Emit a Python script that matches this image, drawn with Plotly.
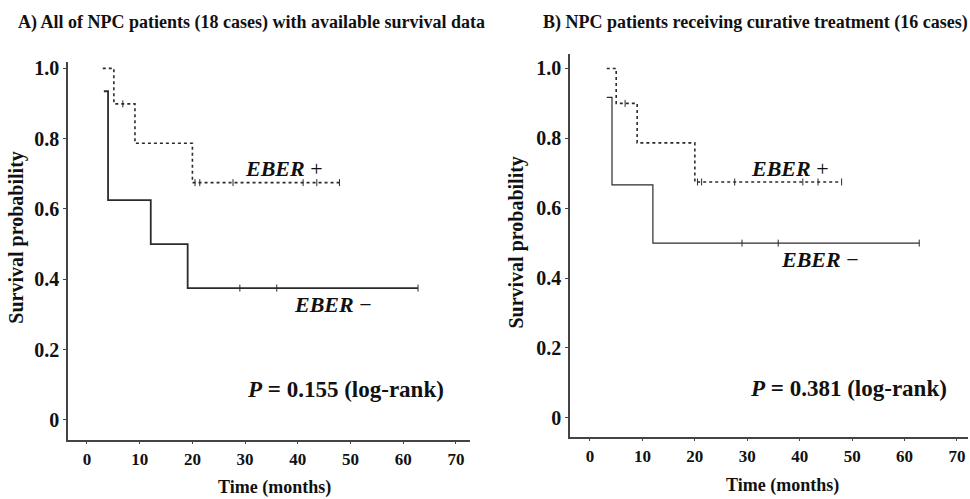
import plotly.graph_objects as go

W, H = 970, 499

# ---- Data ----
# Panel A: all NPC patients
a_pos_t = [3.0, 5.1, 9.1, 20.0, 47.9]
a_pos_s = [1.0, 0.899, 0.787, 0.675, 0.675]
a_pos_cens_t = [6.8, 20.5, 21.4, 27.7, 41.0, 43.6, 47.9]
a_pos_cens_s = [0.899, 0.675, 0.675, 0.675, 0.675, 0.675, 0.675]

a_neg_t = [3.2, 4.0, 12.1, 19.1, 62.8]
a_neg_s = [0.935, 0.625, 0.5, 0.375, 0.375]
a_neg_cens_t = [29.0, 36.0, 62.8]
a_neg_cens_s = [0.375, 0.375, 0.375]

# Panel B: curative treatment
b_pos_t = [3.2, 5.0, 9.0, 20.0, 48.0]
b_pos_s = [1.0, 0.9, 0.787, 0.675, 0.675]
b_pos_cens_t = [6.7, 20.5, 21.3, 27.6, 40.6, 43.5, 48.0]
b_pos_cens_s = [0.9, 0.675, 0.675, 0.675, 0.675, 0.675, 0.675]

b_neg_t = [3.2, 4.2, 12.0, 62.8]
b_neg_s = [0.917, 0.667, 0.5, 0.5]
b_neg_cens_t = [29.0, 35.9, 62.8]
b_neg_cens_s = [0.5, 0.5, 0.5]

x_ticks = [0, 10, 20, 30, 40, 50, 60, 70]
y_ticks = [0, 0.2, 0.4, 0.6, 0.8, 1.0]
y_ticktext = ["0", "0.2", "0.4", "0.6", "0.8", "1.0"]

FONT = "Liberation Serif"
LC = "#2b2b2b"

fig = go.Figure()

def add_panel(xa, ya, pos_t, pos_s, pc_t, pc_s, neg_t, neg_s, nc_t, nc_s, neg_w):
    fig.add_trace(go.Scatter(x=pos_t, y=pos_s, mode="lines", line_shape="hv",
                             line=dict(color=LC, width=1.6, dash="dot"),
                             xaxis=xa, yaxis=ya, showlegend=False, hoverinfo="skip"))
    fig.add_trace(go.Scatter(x=pc_t, y=pc_s, mode="markers",
                             marker=dict(symbol="line-ns", size=5, line=dict(color=LC, width=1)),
                             xaxis=xa, yaxis=ya, showlegend=False, hoverinfo="skip"))
    fig.add_trace(go.Scatter(x=neg_t, y=neg_s, mode="lines", line_shape="hv",
                             line=dict(color=LC, width=neg_w),
                             xaxis=xa, yaxis=ya, showlegend=False, hoverinfo="skip"))
    fig.add_trace(go.Scatter(x=nc_t, y=nc_s, mode="markers",
                             marker=dict(symbol="line-ns", size=5, line=dict(color=LC, width=1)),
                             xaxis=xa, yaxis=ya, showlegend=False, hoverinfo="skip"))

add_panel("x", "y", a_pos_t, a_pos_s, a_pos_cens_t, a_pos_cens_s,
          a_neg_t, a_neg_s, a_neg_cens_t, a_neg_cens_s, 1.8)
add_panel("x2", "y2", b_pos_t, b_pos_s, b_pos_cens_t, b_pos_cens_s,
          b_neg_t, b_neg_s, b_neg_cens_t, b_neg_cens_s, 1.2)

def px_x(p):
    return p / W

def px_y(p):
    return (H - p) / H

axis_common = dict(showgrid=False, zeroline=False, showline=True, linecolor="#444",
                   linewidth=1.5, ticks="outside", ticklen=3, tickcolor="#444")

xax = dict(axis_common, tickvals=x_ticks, ticktext=["<b>%d</b>" % v for v in x_ticks],
           tickfont=dict(family=FONT, size=17, color="#111"))
yax = dict(axis_common, tickvals=y_ticks, ticktext=["<b>%s</b>" % t for t in y_ticktext],
           tickfont=dict(family=FONT, size=20, color="#111"))

fig.update_layout(
    width=W, height=H,
    margin=dict(l=0, r=0, t=0, b=0),
    paper_bgcolor="white", plot_bgcolor="white",
    xaxis=dict(xax, domain=[px_x(68), px_x(470)], range=[-3.6, 72.66], anchor="y"),
    yaxis=dict(yax, domain=[px_y(439), px_y(58)], range=[-0.056, 1.017], anchor="x"),
    xaxis2=dict(xax, domain=[px_x(570), px_x(968)], range=[-3.81, 72.1], anchor="y2"),
    yaxis2=dict(yax, domain=[px_y(436), px_y(50)], range=[-0.054, 1.04], anchor="x2"),
)

def ann(text, x, y, size, angle=0, xref="paper", yref="paper"):
    fig.add_annotation(text=text, x=x, y=y, xref=xref, yref=yref,
                       xanchor="center", yanchor="middle", showarrow=False,
                       textangle=angle,
                       font=dict(family=FONT, size=size, color="#111"))

# titles
ann("<b>A) All of NPC patients (18 cases) with available survival data</b>", px_x(251), px_y(18), 18)
ann("<b>B) NPC patients receiving curative treatment (16 cases)</b>", px_x(755), px_y(18), 18)

# axis titles
ann("<b>Time (months)</b>", px_x(274), px_y(487), 18)
ann("<b>Time (months)</b>", px_x(782), px_y(485), 18)
ann("<b>Survival probability</b>", px_x(17), px_y(235), 20, angle=-90)
ann("<b>Survival probability</b>", px_x(517), px_y(240), 20, angle=-90)

# curve labels
ann("<b><i>EBER</i></b> +", px_x(284), px_y(165), 22)
ann("<b><i>EBER</i></b> −", px_x(333), px_y(303), 22)
ann("<b><i>EBER</i></b> +", px_x(790), px_y(165), 22)
ann("<b><i>EBER</i></b> −", px_x(820), px_y(257), 22)

# p-values
ann("<b><i>P</i> = 0.155 (log-rank)</b>", px_x(345), px_y(388), 23)
ann("<b><i>P</i> = 0.381 (log-rank)</b>", px_x(848), px_y(387), 23)

fig.write_html("out.html", config={"displayModeBar": False},
               post_script="document.body.style.margin='0px';document.body.style.overflow='hidden';")
